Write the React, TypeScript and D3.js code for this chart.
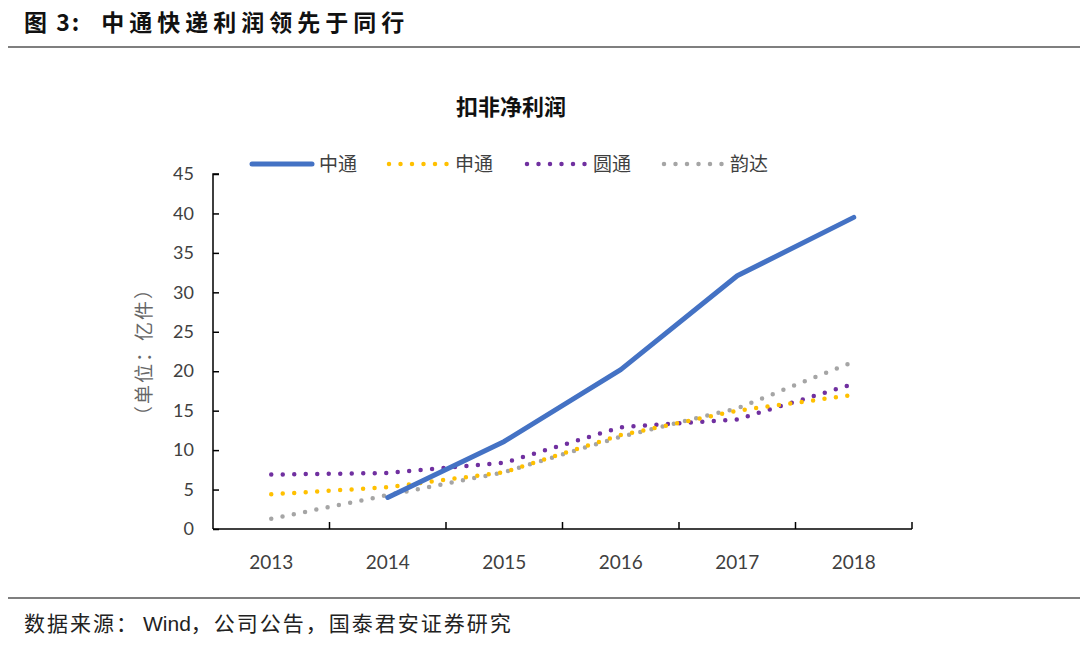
import React, { useEffect, useRef } from 'react';
import * as d3 from 'd3';

const years = ['2013', '2014', '2015', '2016', '2017', '2018'];
const zto: (number | null)[] = [null, 4.0, 11.1, 20.2, 32.1, 39.5];
const sto: (number | null)[] = [4.4, 5.3, 7.2, 11.9, 15.0, 17.0];
const yto: (number | null)[] = [6.9, 7.1, 8.4, 12.9, 13.9, 18.4];
const yunda: (number | null)[] = [1.3, 4.3, 7.2, 11.7, 15.3, 21.2];
const yTicks = [0, 5, 10, 15, 20, 25, 30, 35, 40, 45];

const seriesList = [
  { name: '中通', values: zto, color: '#4472C4', dotted: false },
  { name: '申通', values: sto, color: '#FFC000', dotted: true },
  { name: '圆通', values: yto, color: '#7030A0', dotted: true },
  { name: '韵达', values: yunda, color: '#A5A5A5', dotted: true },
];

const W = 1080;
const H = 649;
const CJK = '"Noto Sans CJK SC", "Noto Sans", sans-serif';
const NUM = 'Lato, "Noto Sans", sans-serif';

const App: React.FC = () => {
  const svgRef = useRef<SVGSVGElement>(null);

  useEffect(() => {
    if (!svgRef.current) return;
    const svg = d3.select(svgRef.current);
    svg.selectAll('*').remove();

    const left = 213, right = 912, top = 174, bottom = 529;

    const x = d3.scaleBand().domain(years).range([left, right]);
    const y = d3.scaleLinear().domain([0, 45]).range([bottom, top]);

    // header
    const head = svg.append('text')
      .attr('x', 24).attr('y', 31)
      .attr('font-family', CJK).attr('font-weight', 'bold')
      .attr('font-size', 23).attr('fill', '#111');
    head.append('tspan').attr('letter-spacing', 2).text('图 3:');
    head.append('tspan').attr('dx', 20).attr('letter-spacing', 5).text('中通快递利润领先于同行');
    svg.append('line')
      .attr('x1', 8).attr('x2', W).attr('y1', 47).attr('y2', 47)
      .attr('stroke', '#555').attr('stroke-width', 1.5);

    // title
    svg.append('text')
      .attr('x', 511).attr('y', 115)
      .attr('text-anchor', 'middle')
      .attr('font-family', CJK).attr('font-weight', 'bold')
      .attr('font-size', 22).attr('fill', '#111')
      .text('扣非净利润');

    // y axis
    const yAxis = svg.append('g').attr('transform', `translate(${left},0)`)
      .call(d3.axisRight(y).tickValues(yTicks).tickSize(6).tickFormat(d3.format('d')));
    yAxis.select('.domain').attr('stroke', '#000').attr('stroke-width', 1.5)
      .attr('d', `M6,${top}H0V${bottom}`);
    yAxis.selectAll('.tick line').attr('stroke', '#000').attr('stroke-width', 1.5);
    yAxis.selectAll('.tick text')
      .attr('x', -19).attr('text-anchor', 'end')
      .attr('font-family', NUM).attr('font-size', 18).attr('fill', '#404040');

    // x axis
    const bounds = years.map(d => x(d)!).concat([right]);
    const xAxis = svg.append('g');
    xAxis.append('line')
      .attr('x1', left).attr('x2', right).attr('y1', bottom).attr('y2', bottom)
      .attr('stroke', '#000').attr('stroke-width', 1.5);
    xAxis.selectAll('line.tk').data(bounds.slice(1)).enter().append('line')
      .attr('class', 'tk')
      .attr('x1', d => d).attr('x2', d => d)
      .attr('y1', bottom).attr('y2', bottom - 7)
      .attr('stroke', '#000').attr('stroke-width', 1.5);
    xAxis.selectAll('text').data(years).enter().append('text')
      .attr('x', d => x(d)! + x.bandwidth() / 2).attr('y', 569)
      .attr('text-anchor', 'middle')
      .attr('font-family', NUM).attr('font-size', 19).attr('fill', '#404040')
      .text(d => d);

    // y label
    svg.append('text')
      .attr('transform', `translate(151,${y(22.5)}) rotate(-90)`)
      .attr('text-anchor', 'middle')
      .attr('font-family', CJK).attr('font-size', 19).attr('letter-spacing', 2)
      .attr('fill', '#666')
      .text('（单位：亿件）');

    // lines
    const line = d3.line<number | null>()
      .defined(d => d !== null)
      .x((_, i) => x(years[i])! + x.bandwidth() / 2)
      .y(d => y(d as number));

    [...seriesList].reverse().forEach(s => {
      svg.append('path')
        .attr('d', line(s.values))
        .attr('fill', 'none')
        .attr('stroke', s.color)
        .attr('stroke-width', s.dotted ? 4.5 : 5)
        .attr('stroke-linecap', 'round')
        .attr('stroke-linejoin', 'round')
        .attr('stroke-dasharray', s.dotted ? '0 11.5' : null);
    });

    // legend
    const legendX = [252, 388, 526, 663];
    const legendY = 164;
    seriesList.forEach((s, i) => {
      const g = svg.append('g').attr('transform', `translate(${legendX[i]},${legendY})`);
      g.append('line')
        .attr('x1', s.dotted ? 1 : 0).attr('x2', 60).attr('y1', 0).attr('y2', 0)
        .attr('stroke', s.color)
        .attr('stroke-width', s.dotted ? 4.5 : 5)
        .attr('stroke-linecap', 'round')
        .attr('stroke-dasharray', s.dotted ? '0 11.5' : null);
      g.append('text')
        .attr('x', 67).attr('y', 7)
        .attr('font-family', CJK).attr('font-size', 19).attr('fill', '#404040')
        .text(s.name);
    });

    // footer
    svg.append('line')
      .attr('x1', 8).attr('x2', W).attr('y1', 598).attr('y2', 598)
      .attr('stroke', '#555').attr('stroke-width', 1.5);
    const foot = svg.append('text')
      .attr('x', 24).attr('y', 631)
      .attr('font-family', CJK).attr('font-size', 21)
      .attr('fill', '#222');
    foot.append('tspan').attr('letter-spacing', 2).text('数据来源：');
    foot.append('tspan').attr('dx', 4).attr('font-family', 'Liberation Sans, Arial, sans-serif').text('Wind');
    foot.append('tspan').attr('letter-spacing', 2).text('，公司公告，国泰君安证券研究');
  }, []);

  return (
    <svg
      ref={svgRef}
      width={W}
      height={H}
      style={{ position: 'absolute', left: 0, top: 0, background: '#fff' }}
    />
  );
};

export default App;
